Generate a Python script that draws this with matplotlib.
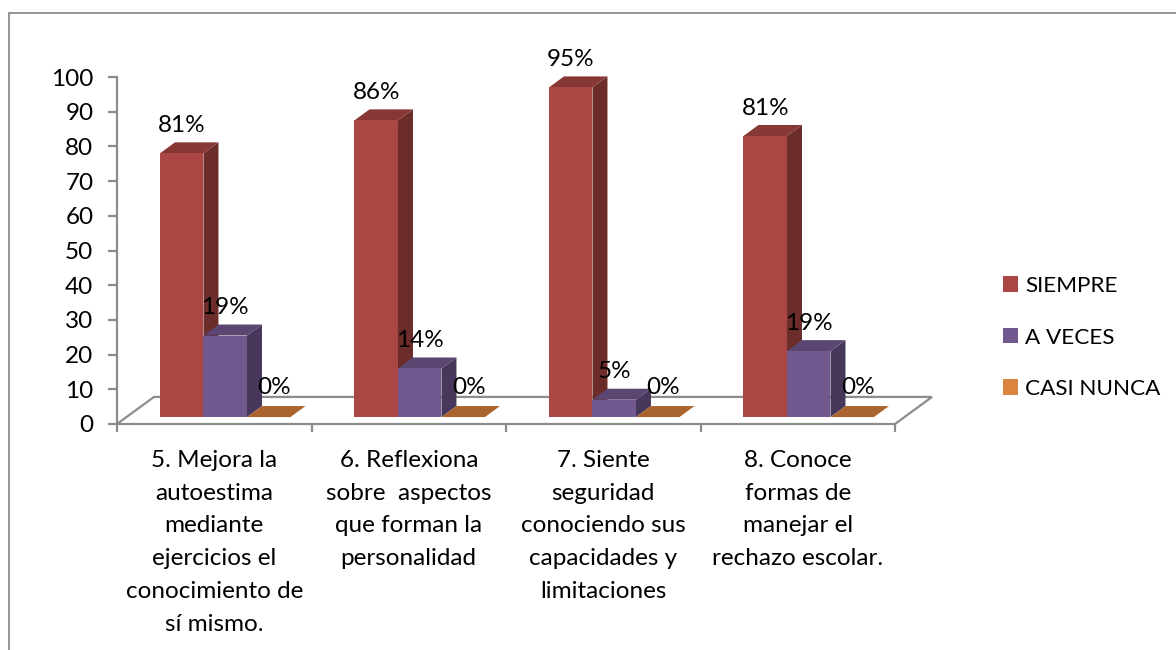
import matplotlib
matplotlib.use('Agg')
import matplotlib.pyplot as plt
from matplotlib.lines import Line2D
from matplotlib.patches import Patch, Polygon, Rectangle

CATEGORIES = ["5. Mejora la\nautoestima\nmediante\nejercicios el\nconocimiento de\nsí mismo.",
              "6. Reflexiona\nsobre  aspectos\nque forman la\npersonalidad",
              "7. Siente\nseguridad\nconociendo sus\ncapacidades y\nlimitaciones",
              "8. Conoce\nformas de\nmanejar el\nrechazo escolar."]
SERIES = ["SIEMPRE", "A VECES", "CASI NUNCA"]
SIEMPRE = [76, 85.5, 95, 81]
A_VECES = [23.5, 14, 5, 19]
CASI_NUNCA = [0, 0, 0, 0]
LABELS_SIEMPRE = ["81%", "86%", "95%", "81%"]
LABELS_A_VECES = ["19%", "14%", "5%", "19%"]
LABELS_CASI_NUNCA = ["0%", "0%", "0%", "0%"]
Y_TICKS = list(range(0, 101, 10))

# front, top, side colours of each series
COLORS = [('#AA4643', '#873734', '#6B2C2A'),
          ('#71588F', '#5A4671', '#47375A'),
          ('#DB843D', '#A9652D', '#A9652D')]
GRAY = '#8C8C8C'
W, H = 1176, 650

plt.rcParams['font.family'] = ['Lato', 'DejaVu Sans']
plt.rcParams['font.size'] = 17.5

fig = plt.figure(figsize=(W / 100, H / 100), dpi=100)

# Outer frame, only left and top are in the picture
fig.add_artist(Line2D([8.5 / W, 8.5 / W, 1], [0, 1 - 13 / H, 1 - 13 / H], color=GRAY, lw=1.3,
                      solid_joinstyle='miter'))

# axes box matches the front edge of the 3D floor
ax = fig.add_axes([117 / W, 1 - 424 / H, 778 / W, 347 / H])
ax.set_xlim(0, 4)
ax.set_ylim(0, 100)
ax.patch.set_alpha(0)

FLOOR = 2          # bars stand a little behind the front edge
BAR_W = 0.2236
START = 0.221
DX = 15 / 194.5    # bar depth
DY = 11 / 3.47
BACK_X = 37 / 194.5
BACK_Y = 7.8

# Floor
ax.plot([0, BACK_X, 4 + BACK_X, 4], [0, BACK_Y, BACK_Y, 0], color=GRAY, lw=1.6,
        clip_on=False, zorder=1, solid_joinstyle='miter')

series_values = [SIEMPRE, A_VECES, CASI_NUNCA]
series_labels = [LABELS_SIEMPRE, LABELS_A_VECES, LABELS_CASI_NUNCA]

for j, (vals, labels) in enumerate(zip(series_values, series_labels)):
    front, top, side = COLORS[j]
    for i, v in enumerate(vals):
        x0 = i + START + j * BAR_W
        x1 = x0 + BAR_W
        y0 = FLOOR
        y1 = FLOOR + v
        z = 3 + i * 3
        ax.add_patch(Polygon([(x1, y0), (x1 + DX, y0 + DY), (x1 + DX, y1 + DY), (x1, y1)],
                             facecolor=side, edgecolor='none', clip_on=False, zorder=z))
        ax.add_patch(Polygon([(x0, y1), (x0 + DX, y1 + DY), (x1 + DX, y1 + DY), (x1, y1)],
                             facecolor=top, edgecolor='none', clip_on=False, zorder=z))
        if v > 0:
            ax.add_patch(Rectangle((x0, y0), BAR_W, v, facecolor=front, edgecolor='none',
                                   clip_on=False, zorder=z + 1))
        ax.annotate(labels[i], xy=((x0 + x1) / 2, y1), xytext=(4 if v == 0 else 0, 21 if v == 0 else 20),
                    textcoords='offset points', ha='center', va='center', zorder=30,
                    annotation_clip=False)

# Axes
for s in ['top', 'right']:
    ax.spines[s].set_visible(False)
for s in ['left', 'bottom']:
    ax.spines[s].set_color(GRAY)
    ax.spines[s].set_linewidth(1.6)
    ax.spines[s].set_zorder(2)

ax.set_yticks(Y_TICKS)
ax.tick_params(axis='y', length=6.5, width=1.6, color=GRAY, pad=10.5)
ax.set_xticks(range(5))
ax.set_xticklabels([])
ax.tick_params(axis='x', which='major', length=5.5, width=1.6, color=GRAY)
ax.set_xticks([i + 0.5 for i in range(4)], minor=True)
ax.set_xticklabels(CATEGORIES, minor=True, linespacing=1.7, va='top', ha='center')
ax.tick_params(axis='x', which='minor', length=0, pad=18.5)

# Legend
handles = [Patch(facecolor=COLORS[k][0], edgecolor='none', label=SERIES[k]) for k in range(3)]
fig.legend(handles=handles, loc='upper left', bbox_to_anchor=(1003 / W, 1 - 276 / H), frameon=False,
           fontsize=16.2, handlelength=0.67, handleheight=0.67, handletextpad=0.32, labelspacing=1.4,
           borderaxespad=0, borderpad=0)

fig.savefig('out.png', dpi=100)
